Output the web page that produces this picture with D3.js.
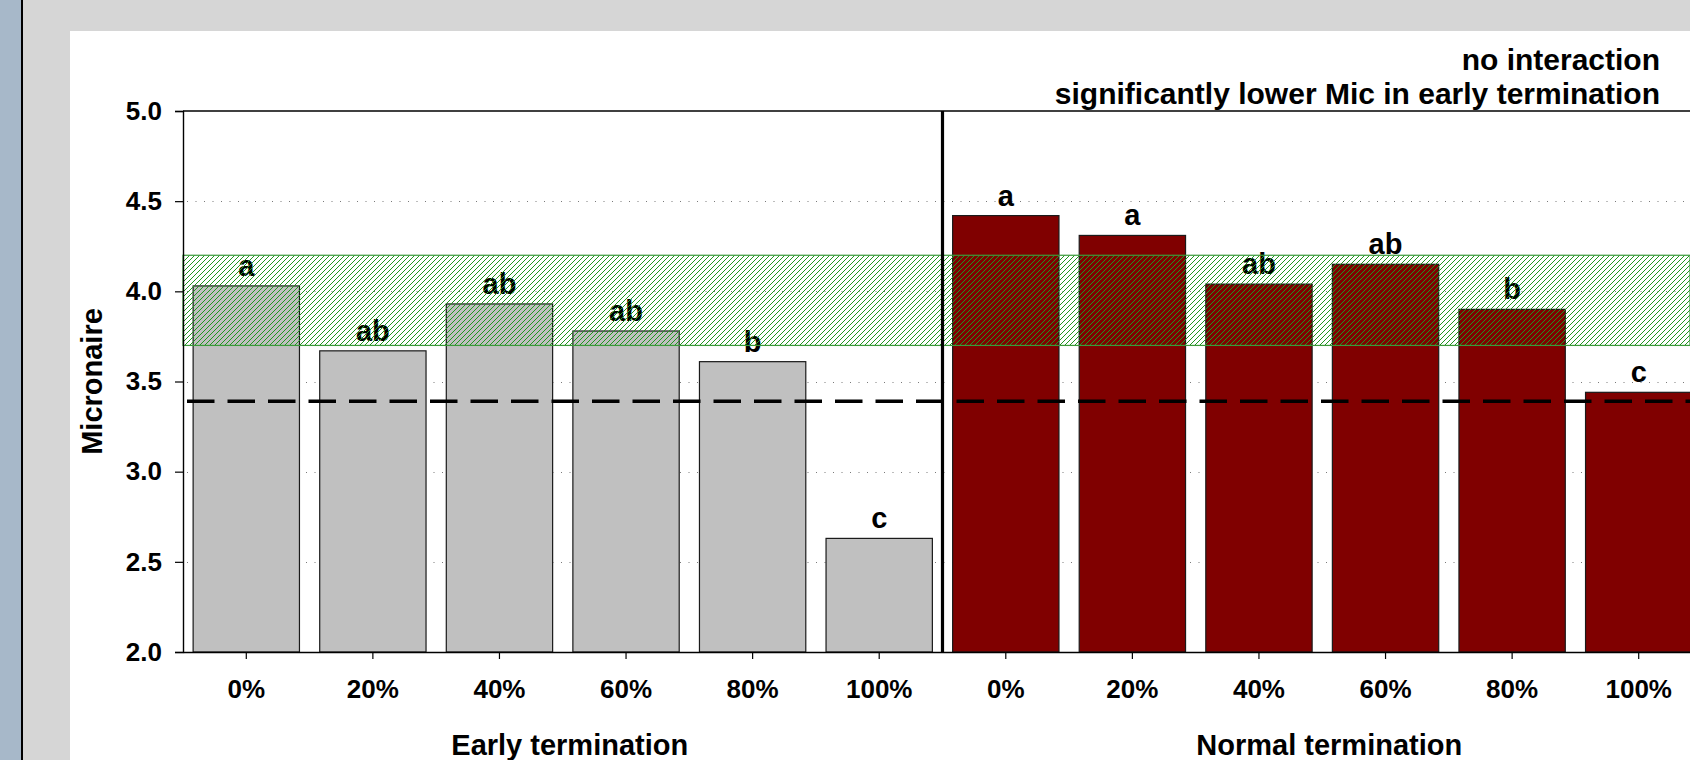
<!DOCTYPE html>
<html>
<head>
<meta charset="utf-8">
<script src="https://cdn.jsdelivr.net/npm/d3@7/dist/d3.min.js"></script>
<style>
  html, body { margin: 0; padding: 0; background: #fff; }
  svg { display: block; font-family: "Liberation Sans", Arial, sans-serif; font-weight: bold; }
</style>
</head>
<body>
<svg id="chart" width="1690" height="760"></svg>
<script>
// Defoliation level treatments within each termination timing
const levels = ["0%", "20%", "40%", "60%", "80%", "100%"];
const groups = ["Early termination", "Normal termination"];

// Mean micronaire per treatment
const earlyMic  = [4.03, 3.67, 3.93, 3.78, 3.61, 2.63];
const normalMic = [4.42, 4.31, 4.04, 4.15, 3.90, 3.44];

// Mean separation letters
const earlyLetters  = ["a", "ab", "ab", "ab", "b", "c"];
const normalLetters = ["a", "a", "ab", "ab", "b", "c"];

// Premium micronaire range and discount threshold
const premiumRange = [3.7, 4.2];
const discountLine = 3.39;

const yTicks = [2.0, 2.5, 3.0, 3.5, 4.0, 4.5, 5.0];
const yDomain = [2.0, 5.0];

const noteLines = ["no interaction", "significantly lower Mic in early termination"];

// Flat table of bars built from the arrays above
const rows = [];
groups.forEach((g, gi) => {
  const vals = gi === 0 ? earlyMic : normalMic;
  const lets = gi === 0 ? earlyLetters : normalLetters;
  levels.forEach((lv, i) => rows.push({ key: g + "|" + lv, group: gi, level: lv, value: vals[i], letter: lets[i] }));
});

const svg = d3.select("#chart");
const W = 1690, H = 760;

// Frame / backdrop
svg.append("rect").attr("x", 0).attr("y", 0).attr("width", W).attr("height", H).attr("fill", "#d6d6d6");
svg.append("rect").attr("x", 0).attr("y", 0).attr("width", 21).attr("height", H).attr("fill", "#a7b8c9");
svg.append("rect").attr("x", 21).attr("y", 0).attr("width", 2).attr("height", H).attr("fill", "#000");
svg.append("rect").attr("x", 70).attr("y", 31).attr("width", W - 70).attr("height", H - 31).attr("fill", "#fff");

const plot = { left: 183, top: 111, bottom: 652, right: 1702 };

const x = d3.scaleBand()
  .domain(rows.map(d => d.key))
  .range([plot.left, plot.right])
  .paddingInner(0.16)
  .paddingOuter(0.08);

const y = d3.scaleLinear().domain(yDomain).range([plot.bottom, plot.top]);

// Hatch pattern for the premium band
const defs = svg.append("defs");
const pat = defs.append("pattern")
  .attr("id", "hatch")
  .attr("patternUnits", "userSpaceOnUse")
  .attr("width", 5).attr("height", 5);
pat.append("path")
  .attr("d", "M-1,1 l2,-2 M0,5 l5,-5 M4,6 l2,-2")
  .attr("stroke", "#1f961f")
  .attr("stroke-width", 1);

// Dotted gridlines
svg.append("g").selectAll("line")
  .data(yTicks.filter(t => t > yDomain[0] && t < yDomain[1]))
  .join("line")
  .attr("x1", plot.left + 4).attr("x2", W)
  .attr("y1", d => Math.round(y(d)) + 0.5).attr("y2", d => Math.round(y(d)) + 0.5)
  .attr("stroke", "#7a7a7a")
  .attr("stroke-width", 1)
  .attr("stroke-dasharray", "1,7.5");

// Bars
svg.append("g").selectAll("rect")
  .data(rows)
  .join("rect")
  .attr("x", d => x(d.key))
  .attr("y", d => y(d.value))
  .attr("width", x.bandwidth())
  .attr("height", d => y(yDomain[0]) - y(d.value))
  .attr("fill", d => d.group === 0 ? "#c0c0c0" : "#800000")
  .attr("stroke", "#1a1a1a")
  .attr("stroke-width", 1.2);

// Letters above bars
svg.append("g").selectAll("text")
  .data(rows)
  .join("text")
  .attr("x", d => x(d.key) + x.bandwidth() / 2)
  .attr("y", d => y(d.value) - 10)
  .attr("text-anchor", "middle")
  .attr("font-size", 29)
  .attr("fill", "#000")
  .text(d => d.letter);

// Premium micronaire band
svg.append("rect")
  .attr("x", plot.left)
  .attr("y", y(premiumRange[1]))
  .attr("width", W - plot.left)
  .attr("height", y(premiumRange[0]) - y(premiumRange[1]))
  .attr("fill", "url(#hatch)")
  .attr("stroke", "#3a9a3a")
  .attr("stroke-width", 1.2);

// Discount threshold
svg.append("line")
  .attr("x1", plot.left + 4).attr("x2", W)
  .attr("y1", y(discountLine)).attr("y2", y(discountLine))
  .attr("stroke", "#000")
  .attr("stroke-width", 3.5)
  .attr("stroke-dasharray", "27.5,13");

// Y axis
const yAxis = svg.append("g")
  .attr("transform", `translate(${plot.left},0)`)
  .call(d3.axisLeft(y).tickValues(yTicks).tickFormat(d3.format(".1f")).tickSize(8).tickPadding(13));
yAxis.select(".domain").attr("stroke", "#000").attr("stroke-width", 1.4);
yAxis.selectAll(".tick line").attr("stroke", "#000").attr("stroke-width", 1.2);
yAxis.selectAll(".tick text")
  .attr("font-size", 26).attr("font-family", "Liberation Sans, Arial, sans-serif")
  .attr("font-weight", "bold").attr("fill", "#000");

// X axis
const xAxis = svg.append("g")
  .attr("transform", `translate(0,${plot.bottom})`)
  .call(d3.axisBottom(x).tickFormat(k => k.split("|")[1]).tickSize(7).tickSizeOuter(0).tickPadding(21));
xAxis.select(".domain").attr("stroke", "#000").attr("stroke-width", 1.4);
xAxis.selectAll(".tick line").attr("stroke", "#000").attr("stroke-width", 1.2);
xAxis.selectAll(".tick text")
  .attr("font-size", 26).attr("font-family", "Liberation Sans, Arial, sans-serif")
  .attr("font-weight", "bold").attr("fill", "#000");

// Top frame line
svg.append("line")
  .attr("x1", plot.left).attr("x2", W)
  .attr("y1", plot.top).attr("y2", plot.top)
  .attr("stroke", "#000").attr("stroke-width", 1.4);

// Divider between termination groups
const divX = (x(groups[0] + "|" + levels[5]) + x.bandwidth() + x(groups[1] + "|" + levels[0])) / 2;
svg.append("line")
  .attr("x1", divX).attr("x2", divX)
  .attr("y1", plot.top).attr("y2", plot.bottom)
  .attr("stroke", "#000").attr("stroke-width", 3.2);

// Group labels
groups.forEach((g, gi) => {
  const first = x(g + "|" + levels[0]);
  const last = x(g + "|" + levels[levels.length - 1]) + x.bandwidth();
  svg.append("text")
    .attr("x", (first + last) / 2 + 7)
    .attr("y", 755)
    .attr("text-anchor", "middle")
    .attr("font-size", 29)
    .attr("fill", "#000")
    .text(g);
});

// Y axis title
svg.append("text")
  .attr("transform", `translate(102,${(plot.top + plot.bottom) / 2}) rotate(-90)`)
  .attr("text-anchor", "middle")
  .attr("font-size", 29)
  .attr("fill", "#000")
  .text("Micronaire");

// Statistical note
svg.append("g").selectAll("text")
  .data(noteLines)
  .join("text")
  .attr("x", 1660)
  .attr("y", (d, i) => 70 + i * 34)
  .attr("text-anchor", "end")
  .attr("font-size", 30)
  .attr("fill", "#000")
  .text(d => d);
</script>
</body>
</html>
